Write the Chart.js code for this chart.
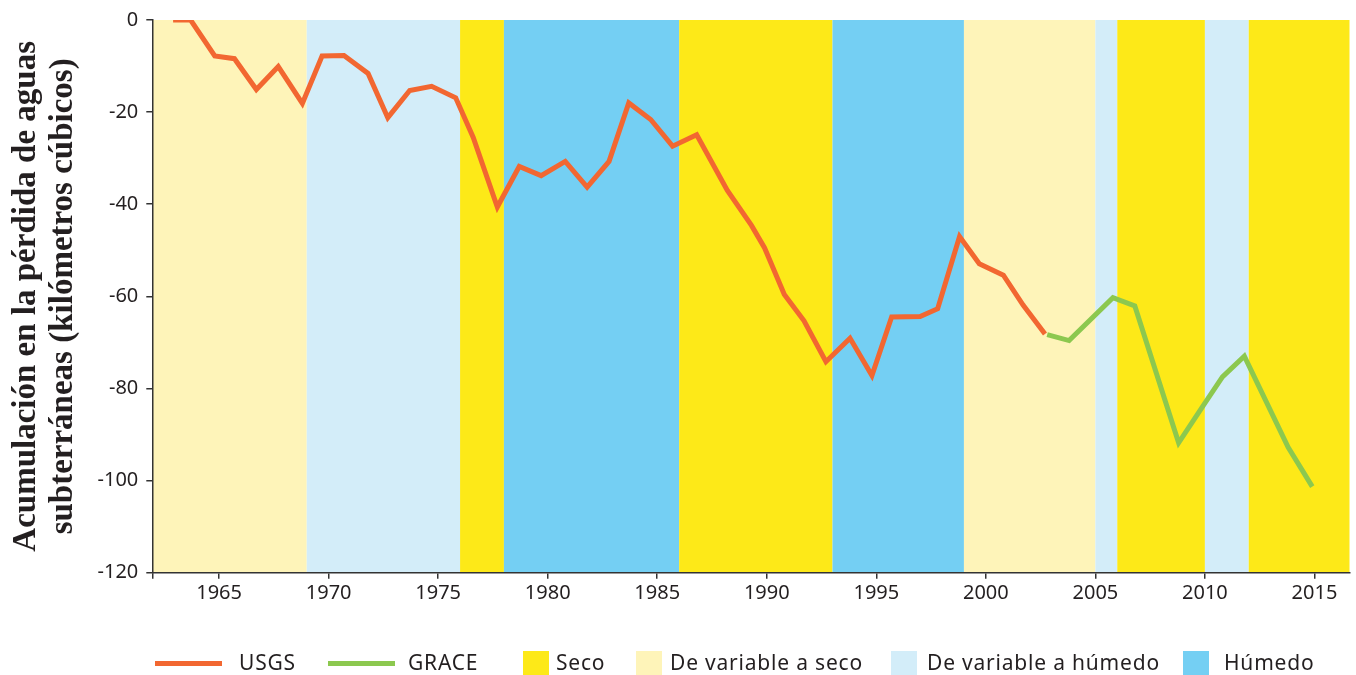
<!DOCTYPE html>
<html>
<head>
<meta charset="utf-8">
<script src="https://cdn.jsdelivr.net/npm/chart.js@4.4.1/dist/chart.umd.min.js"></script>
<style>
    body { margin: 0; background: #fff; }
    #wrap { position: relative; width: 1356px; height: 675px; overflow: hidden; }
    #chart { position: absolute; left: 0; top: 0; }
    .lg-line { position: absolute; height: 5px; width: 67px; top: 661px; }
    .lg-box { position: absolute; width: 26px; height: 24px; top: 651px; }
    .lg-text { position: absolute; top: 649px; font-family: "Noto Sans", sans-serif; font-size: 21px; letter-spacing: 0.8px; line-height: 27px; color: #231f20; white-space: nowrap; }
</style>
</head>
<body>
<div id="wrap">
    <canvas id="chart" width="1356" height="675"></canvas>
    <div id="legend"></div>
</div>
<script>
// USGS series
const usgsYears = [1962.9, 1963.7, 1964.8, 1965.7, 1966.7, 1967.7, 1968.8, 1969.7, 1970.7, 1971.8,
    1972.7, 1973.7, 1974.7, 1975.8, 1976.6, 1977.7, 1978.7, 1979.7, 1980.8, 1981.8,
    1982.8, 1983.7, 1984.7, 1985.7, 1986.8, 1988.2, 1989.3, 1989.9, 1990.8, 1991.7,
    1992.7, 1993.8, 1994.8, 1995.7, 1997.0, 1997.8, 1998.8, 1999.7, 2000.8, 2001.7, 2002.7];
const usgsValues = [0, 0, -7.8, -8.4, -15.1, -10.1, -18.1, -7.8, -7.7, -11.6,
    -21.2, -15.3, -14.4, -16.9, -25.5, -40.6, -31.8, -33.8, -30.7, -36.3,
    -30.7, -18.0, -21.6, -27.4, -24.9, -37.0, -44.6, -49.5, -59.6, -65.3,
    -74.2, -69.1, -77.2, -64.5, -64.4, -62.7, -47.0, -52.9, -55.4, -61.9, -68.2];

// GRACE series
const graceYears = [2002.8, 2003.8, 2005.8, 2006.8, 2008.8, 2009.9, 2010.8, 2011.8, 2013.8, 2014.9];
const graceValues = [-68.3, -69.6, -60.3, -62.1, -91.8, -83.9, -77.5, -73.0, -92.8, -101.3];

// climate periods behind the lines
const bandStart = [1962, 1969, 1976, 1978, 1986, 1993, 1999, 2005, 2006, 2010, 2012];
const bandEnd = [1969, 1976, 1978, 1986, 1993, 1999, 2005, 2006, 2010, 2012, 2017];
const bandType = ["varSeco", "varHumedo", "seco", "humedo", "seco", "humedo", "varSeco", "varHumedo", "seco", "varHumedo", "seco"];

// axes
const xTickYears = [1965, 1970, 1975, 1980, 1985, 1990, 1995, 2000, 2005, 2010, 2015];
const yTicks = [0, -20, -40, -60, -80, -100, -120];
const yTitle = ["Acumulación en la pérdida de aguas", "subterráneas (kilómetros cúbicos)"];

// legend
const seriesNames = ["USGS", "GRACE"];
const bandNames = ["Seco", "De variable a seco", "De variable a húmedo", "Húmedo"];
const bandKeys = ["seco", "varSeco", "varHumedo", "humedo"];

const colors = {
    usgs: "#f26731",
    grace: "#8cc84f",
    seco: "#fde918",
    varSeco: "#fef4b9",
    varHumedo: "#d3edf9",
    humedo: "#74cff3",
    axis: "#333333",
    text: "#231f20"
};

const xMin = 1961.95;
const xMax = 2016.6;

const bandPlugin = {
    id: "bands",
    beforeDraw(chart) {
        const {ctx, chartArea, scales: {x}} = chart;
        ctx.save();
        for (let i = 0; i < bandStart.length; i++) {
            let x0 = i === 0 ? chartArea.left : x.getPixelForValue(bandStart[i]);
            let x1 = Math.min(chartArea.right, x.getPixelForValue(bandEnd[i]));
            ctx.fillStyle = colors[bandType[i]];
            ctx.fillRect(x0, chartArea.top, x1 - x0, chartArea.bottom - chartArea.top);
        }
        ctx.restore();
    }
};

function toPoints(xs, ys) {
    return xs.map((v, i) => ({x: v, y: ys[i]}));
}

const tickFont = {family: "'Noto Sans', sans-serif", size: 20};

new Chart(document.getElementById("chart"), {
    type: "line",
    data: {
        datasets: [{
            label: seriesNames[0],
            data: toPoints(usgsYears, usgsValues),
            borderColor: colors.usgs,
            borderWidth: 5,
            pointRadius: 0,
            tension: 0,
            borderJoinStyle: "miter",
            borderCapStyle: "butt"
        }, {
            label: seriesNames[1],
            data: toPoints(graceYears, graceValues),
            borderColor: colors.grace,
            borderWidth: 5,
            pointRadius: 0,
            tension: 0,
            borderJoinStyle: "miter",
            borderCapStyle: "butt"
        }]
    },
    options: {
        responsive: false,
        animation: false,
        layout: {padding: {left: 0, top: 16.7, right: 6.5, bottom: 0}},
        plugins: {legend: {display: false}, tooltip: {enabled: false}},
        scales: {
            x: {
                type: "linear",
                min: xMin,
                max: xMax,
                afterBuildTicks: (scale) => {
                    scale.ticks = [xMin].concat(xTickYears).map(v => ({value: v}));
                },
                afterFit: (scale) => { scale.height = 102.3; },
                ticks: {
                    autoSkip: false,
                    maxRotation: 0,
                    padding: 3,
                    color: colors.text,
                    font: tickFont,
                    callback: (v) => xTickYears.includes(v) ? String(v) : ""
                },
                grid: {drawOnChartArea: false, drawTicks: true, tickLength: 6, color: colors.axis, lineWidth: 1.5},
                border: {display: true, color: colors.axis, width: 1.5}
            },
            y: {
                min: -120,
                max: 0,
                afterBuildTicks: (scale) => {
                    scale.ticks = yTicks.slice().reverse().map(v => ({value: v}));
                },
                afterFit: (scale) => { scale.width = 152.3; },
                ticks: {
                    padding: 8,
                    color: colors.text,
                    font: tickFont
                },
                grid: {drawOnChartArea: false, drawTicks: true, tickLength: 6, color: colors.axis, lineWidth: 1.5},
                border: {display: true, color: colors.axis, width: 1.5},
                title: {
                    display: true,
                    text: yTitle,
                    color: colors.text,
                    padding: {top: 7, bottom: 0},
                    font: {family: "'Liberation Serif', serif", size: 33, weight: "bold", lineHeight: 1.15}
                }
            }
        }
    },
    plugins: [bandPlugin]
});

// legend: marker left edge and label left edge for each entry
const legendEl = document.getElementById("legend");
const lineLeft = [155, 328];
const lineTextLeft = [239, 408];
const boxLeft = [523, 636, 891, 1183];
const boxTextLeft = [556, 670, 927, 1224];

seriesNames.forEach((name, i) => {
    const ln = document.createElement("div");
    ln.className = "lg-line";
    ln.style.left = lineLeft[i] + "px";
    ln.style.background = i === 0 ? colors.usgs : colors.grace;
    legendEl.appendChild(ln);
    const tx = document.createElement("div");
    tx.className = "lg-text";
    tx.style.left = lineTextLeft[i] + "px";
    tx.textContent = name;
    legendEl.appendChild(tx);
});

bandNames.forEach((name, i) => {
    const bx = document.createElement("div");
    bx.className = "lg-box";
    bx.style.left = boxLeft[i] + "px";
    bx.style.background = colors[bandKeys[i]];
    legendEl.appendChild(bx);
    const tx = document.createElement("div");
    tx.className = "lg-text";
    tx.style.left = boxTextLeft[i] + "px";
    tx.textContent = name;
    legendEl.appendChild(tx);
});
</script>
</body>
</html>
